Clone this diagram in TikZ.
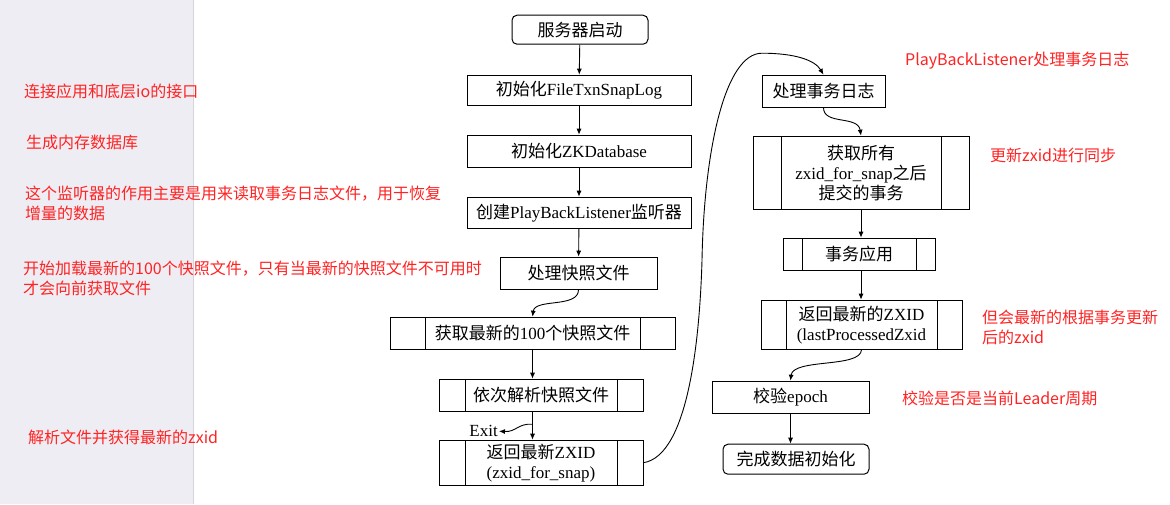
\documentclass[tikz,border=0pt]{standalone}
\usepackage{fontspec}
\setmainfont{Liberation Serif}
\newfontfamily\zhfont{Noto Sans CJK SC}
\usetikzlibrary{arrows.meta}
\newcommand{\zh}[1]{{\zhfont #1}}
\definecolor{panelgray}{RGB}{238,237,243}
\definecolor{panelline}{RGB}{214,213,220}
\definecolor{notered}{RGB}{255,35,35}

\begin{document}
\begin{tikzpicture}[x=1pt,y=-1pt,
        box/.style={draw,line width=1pt,inner sep=0pt,align=center,font=\fontsize{17}{20}\selectfont},
        sub/.style={box,path picture={\draw[line width=1pt] ([xshift=#1]path picture bounding box.north west) -- ([xshift=#1]path picture bounding box.south west) ([xshift=-#1]path picture bounding box.north east) -- ([xshift=-#1]path picture bounding box.south east);}},
        term/.style={box,rounded corners=5pt},
        note/.style={text=notered,anchor=west,inner sep=0pt,align=left,font=\zhfont\fontsize{16}{20}\selectfont},
        flow/.style={line width=0.9pt,arrows={-Latex[length=6pt,width=5pt]}}]
        \fill[white] (0,0) rectangle (1170,504);
        \fill[panelgray] (0,0) rectangle (193,504);
        \draw[panelline] (193.5,0) -- (193.5,504);
        \useasboundingbox (0,0) rectangle (1170,504);
        \node[term,minimum width=136pt,minimum height=29pt] (start) at (580,29.5) {\zh{服务器启动}};
        \node[box,minimum width=224pt,minimum height=30pt] (fts) at (579,90) {\zh{初始化}FileTxnSnapLog};
        \node[box,minimum width=224pt,minimum height=32pt] (zkdb) at (579,151) {\zh{初始化}ZKDatabase};
        \node[box,minimum width=224pt,minimum height=31pt] (pbl) at (579,212.5) {\zh{创建}PlayBackListener\zh{监听器}};
        \node[box,minimum width=157pt,minimum height=32pt] (snap) at (578.5,273) {\zh{处理快照文件}};
        \node[sub=35pt,minimum width=285pt,minimum height=32pt] (get100) at (532.5,333) {\zh{获取最新的}100\zh{个快照文件}};
        \node[sub=26pt,minimum width=204pt,minimum height=32pt] (parse) at (541,395) {\zh{依次解析快照文件}};
        \node[sub=26pt,minimum width=204pt,minimum height=45pt] (zsnap) at (541,462.5) {\zh{返回最新}ZXID\\(zxid\_for\_snap)};
        \node[anchor=east,inner sep=1pt,font=\fontsize{17}{20}\selectfont] (exit) at (499,431) {Exit};
        \coordinate (fork) at (532.5,424);
        \node[box,minimum width=123pt,minimum height=32pt] (txlog) at (823.5,91) {\zh{处理事务日志}};
        \node[sub=28pt,minimum width=216pt,minimum height=73pt] (alltx) at (861,172.5) {\zh{获取所有}\\zxid\_for\_snap\zh{之后}\\\zh{提交的事务}};
        \node[sub=19pt,minimum width=152pt,minimum height=32pt] (apply) at (859,254) {\zh{事务应用}};
        \node[sub=25pt,minimum width=201pt,minimum height=49pt] (lastz) at (861.5,324.5) {\zh{返回最新的}ZXID\\(lastProcessedZxid};
        \node[box,minimum width=157pt,minimum height=32pt] (check) at (790.5,397) {\zh{校验}epoch};
        \node[term,minimum width=146pt,minimum height=30pt] (done) at (796,459) {\zh{完成数据初始化}};
        \node[note] (n1) at (24,91) {连接应用和底层io的接口};
        \node[note] (n2) at (26,142) {生成内存数据库};
        \node[note] (n3) at (25,203) {这个监听器的作用主要是用来读取事务日志文件，用于恢复\\增量的数据};
        \node[note] (n4) at (23,278) {开始加载最新的100个快照文件，只有当最新的快照文件不可用时\\才会向前获取文件};
        \node[note] (n5) at (28,437) {解析文件并获得最新的zxid};
        \node[note] (n6) at (905,60) {PlayBackListener处理事务日志};
        \node[note] (n7) at (990,155) {更新zxid进行同步};
        \node[note] (n8) at (982,327) {但会最新的根据事务更新\\后的zxid};
        \node[note] (n9) at (902,398) {校验是否是当前Leader周期};
        \draw[flow] (start) -- (fts);
        \draw[flow] (fts) -- (zkdb);
        \draw[flow] (zkdb) -- (pbl);
        \draw[flow] (pbl) -- (snap);
        \draw[flow] (snap.south) .. controls (578.5,308) and (535,298) .. (get100.north);
        \draw[flow] (get100.south) -- (get100.south |- parse.north);
        \draw[flow] (parse.south -| get100.south) -- (zsnap.north -| get100.south);
        \draw[flow] (fork) .. controls (518,423) and (516,432) .. (exit.east);
        \draw[flow] (zsnap.east) .. controls (690,455) and (700,330) .. (702,260) .. controls (704,150) and (725,53) .. (762,53) .. controls (795,53) and (815,60) .. (txlog.north);
        \draw[flow] (txlog.south) .. controls (823.5,125) and (858,115) .. (alltx.north);
        \draw[flow] (alltx.south) -- (alltx.south |- apply.north);
        \draw[flow] (apply.south -| alltx.south) -- (lastz.north -| alltx.south);
        \draw[flow] (lastz.south) .. controls (861,368) and (793,358) .. (check.north);
        \draw[flow] (check.south) -- (check.south |- done.north);
      \end{tikzpicture}
\end{document}
